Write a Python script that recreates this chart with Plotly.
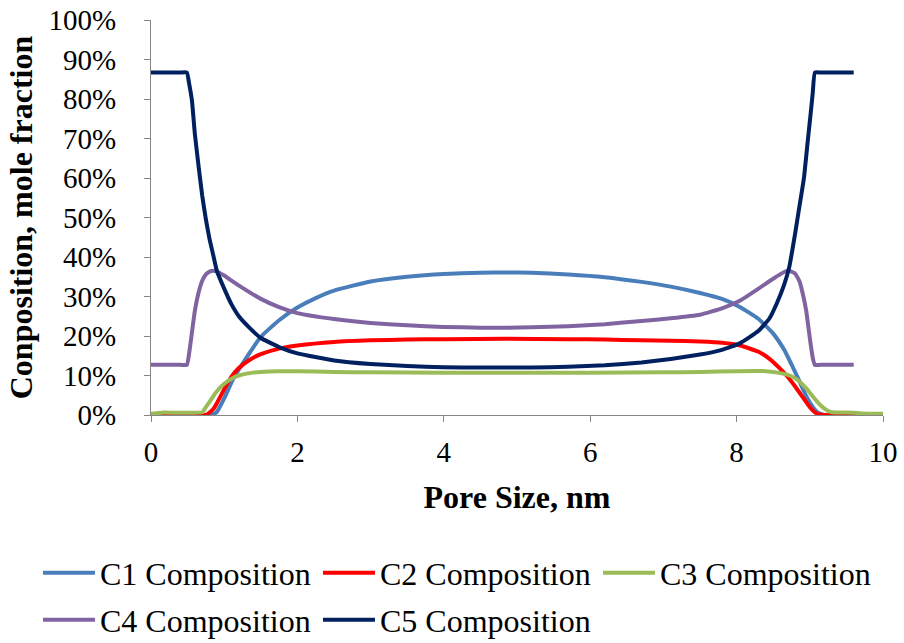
import plotly.graph_objects as go

# ---- data ----
x_c1 = [0, 0.5, 0.75, 0.85, 0.9, 1.0, 1.1, 1.2, 1.35, 1.5, 1.75, 2.0, 2.25, 2.5, 3.0, 3.5, 4.0, 4.5, 4.85,
        5.2, 5.7, 6.2, 6.7, 7.1, 7.5, 7.8, 8.05, 8.3, 8.5, 8.65, 8.75, 8.85, 8.95, 9.05, 9.12, 9.2, 9.6]
c1 = [0, 0, 0, 0.2, 0.8, 4.2, 8.3, 11.5, 15.8, 19.8, 24.0, 27.2, 29.6, 31.5, 33.8, 35.0, 35.7, 36.0, 36.1,
      36.0, 35.6, 34.9, 33.7, 32.5, 30.9, 29.4, 27.3, 24.3, 20.6, 16.5, 12.8, 8.9, 4.8, 1.8, 0.5, 0, 0]

x_c2 = [0, 0.75, 0.85, 0.9, 1.0, 1.1, 1.2, 1.35, 1.5, 1.75, 2.0, 2.5, 3.0, 3.5, 4.0, 4.85, 5.7, 6.2, 6.7,
        7.1, 7.5, 7.8, 8.05, 8.3, 8.45, 8.6, 8.7, 8.8, 8.9, 9.0, 9.1, 9.2, 10.0]
c2 = [0, 0, 1.5, 3.0, 6.5, 9.7, 11.9, 14.0, 15.4, 16.8, 17.6, 18.5, 18.9, 19.1, 19.2, 19.3, 19.2, 19.1, 18.9,
      18.8, 18.6, 18.3, 17.6, 16.0, 14.2, 11.6, 9.6, 7.2, 4.6, 2.0, 0.3, 0, 0]

x_c3 = [0, 0.15, 0.7, 0.75, 0.8, 0.85, 0.9, 1.0, 1.1, 1.2, 1.35, 1.5, 1.75, 2.0, 2.5, 3.0, 4.0, 4.85, 6.0,
        7.0, 7.5, 8.0, 8.4, 8.6, 8.75, 8.85, 8.95, 9.05, 9.15, 9.25, 9.3, 9.6, 9.7, 10.0]
c3 = [0.3, 0.6, 0.7, 2.0, 3.3, 4.7, 6.0, 7.9, 9.2, 10.0, 10.6, 10.9, 11.1, 11.1, 10.9, 10.8, 10.7, 10.7, 10.7,
      10.8, 10.9, 11.1, 11.1, 10.6, 9.8, 8.6, 6.8, 4.5, 2.4, 1.0, 0.7, 0.6, 0.4, 0.3]

x_c4 = [0, 0.4, 0.49, 0.52, 0.56, 0.6, 0.65, 0.7, 0.75, 0.8, 0.85, 0.9, 1.0, 1.1, 1.25, 1.5, 1.75, 2.0, 2.5,
        3.0, 3.5, 4.0, 4.5, 4.85, 5.2, 5.7, 6.2, 6.7, 7.1, 7.5, 7.8, 8.05, 8.3, 8.5, 8.65, 8.72, 8.8, 8.86,
        8.9, 8.95, 9.0, 9.04, 9.07, 9.15, 9.6]
c4 = [12.7, 12.7, 12.7, 15.5, 21.0, 26.5, 31.0, 34.0, 35.6, 36.3, 36.5, 36.3, 35.3, 34.0, 32.2, 29.4, 27.3,
      25.8, 24.3, 23.3, 22.7, 22.3, 22.1, 22.1, 22.2, 22.5, 23.0, 23.8, 24.5, 25.4, 27.0, 29.0, 32.0, 34.5,
      36.2, 36.5, 35.8, 33.8, 31.0, 26.5, 19.5, 14.5, 12.7, 12.7, 12.7]

x_c5 = [0, 0.4, 0.49, 0.52, 0.56, 0.6, 0.65, 0.7, 0.75, 0.8, 0.85, 0.9, 1.0, 1.1, 1.2, 1.35, 1.5, 1.75, 2.0,
        2.5, 3.0, 3.5, 4.0, 4.5, 4.85, 5.2, 5.7, 6.2, 6.7, 7.1, 7.5, 7.8, 8.05, 8.3, 8.45, 8.55, 8.65, 8.72,
        8.8, 8.86, 8.92, 8.97, 9.01, 9.04, 9.07, 9.15, 9.6]
c5 = [86.7, 86.7, 86.7, 84.0, 79.5, 71.0, 63.0, 55.5, 49.5, 44.5, 40.5, 36.5, 32.0, 28.0, 25.0, 22.0, 19.5,
      17.2, 15.6, 13.8, 12.9, 12.4, 12.1, 12.0, 12.0, 12.0, 12.2, 12.6, 13.3, 14.2, 15.3, 16.5, 18.2, 21.3,
      24.5, 28.3, 33.0, 37.5, 46.0, 53.0, 60.0, 69.0, 76.0, 81.5, 86.7, 86.7, 86.7]

names = ["C1 Composition", "C2 Composition", "C3 Composition", "C4 Composition", "C5 Composition"]
colors = ["#4A7EBB", "#FF0000", "#9BBB59", "#8064A2", "#002060"]
xs = [x_c1, x_c2, x_c3, x_c4, x_c5]
ys = [c1, c2, c3, c4, c5]
legends = ["legend", "legend", "legend", "legend2", "legend2"]

FONT = "Liberation Serif, Times New Roman, serif"

fig = go.Figure()
for x, y, n, c, lg in zip(xs, ys, names, colors, legends):
    fig.add_trace(go.Scatter(x=x, y=y, name=n, mode="lines",
                             line=dict(color=c, width=4, shape="spline", smoothing=0.4),
                             legend=lg))

leg_common = dict(orientation="h", xanchor="left", yanchor="middle",
                  entrywidth=213, entrywidthmode="pixels", itemwidth=52,
                  font=dict(family=FONT, size=32, color="black"),
                  bgcolor="rgba(0,0,0,0)", traceorder="normal")

fig.update_layout(
    width=904, height=643,
    margin=dict(l=151, r=21, t=20, b=228, autoexpand=False),
    paper_bgcolor="white", plot_bgcolor="white",
    font=dict(family=FONT, color="black"),
    xaxis=dict(range=[0, 10], dtick=2, tick0=0, showgrid=False, zeroline=False,
               showline=True, linecolor="#868686", linewidth=1,
               ticks="outside", ticklen=6, tickcolor="#868686",
               tickfont=dict(family=FONT, size=29, color="black"),
               ticklabelstandoff=5,
               title=dict(text="<b>Pore Size, nm</b>", font=dict(family=FONT, size=32, color="black"),
                          standoff=18)),
    yaxis=dict(range=[0, 100], dtick=10, tick0=0, ticksuffix="%", showgrid=False, zeroline=False,
               showline=True, linecolor="#868686", linewidth=1,
               ticks="outside", ticklen=6, tickcolor="#868686",
               tickfont=dict(family=FONT, size=29, color="black"),
               ticklabelstandoff=22,
               title=dict(text="<b>Conposition, mole fraction</b>",
                          font=dict(family=FONT, size=32, color="black"), standoff=6)),
    legend=dict(x=-0.1544, y=-0.40, **leg_common),
    legend2=dict(x=-0.1544, y=-0.519, **leg_common),
)

fig.write_html("out.html")
